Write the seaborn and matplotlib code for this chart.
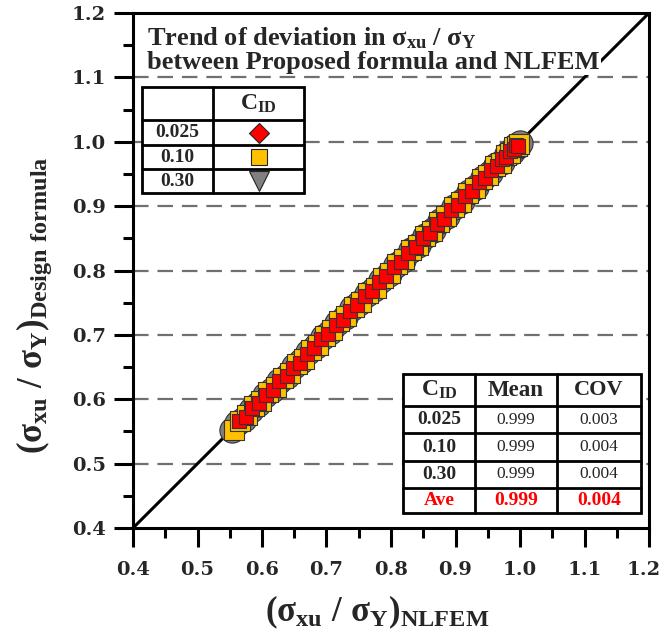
import numpy as np
import pandas as pd
import matplotlib
matplotlib.use("Agg")
import matplotlib.pyplot as plt
import matplotlib.transforms as mtransforms
import seaborn as sns
from matplotlib.patches import Rectangle
from matplotlib.lines import Line2D

# ---------------- data ----------------
red_x = [0.565, 0.575, 0.585, 0.596, 0.606, 0.617, 0.627, 0.638, 0.648, 0.659, 0.670, 0.681,
         0.692, 0.703, 0.714, 0.725, 0.736, 0.748, 0.759, 0.770, 0.781, 0.793, 0.804, 0.815,
         0.826, 0.838, 0.849, 0.860, 0.871, 0.882, 0.893, 0.904, 0.915, 0.926, 0.936, 0.946,
         0.955, 0.964, 0.972, 0.979, 0.985, 0.990, 0.994, 0.997]
red_y = [0.566, 0.573, 0.586, 0.594, 0.607, 0.615, 0.628, 0.636, 0.649, 0.657, 0.671, 0.679,
         0.693, 0.701, 0.715, 0.723, 0.737, 0.746, 0.760, 0.768, 0.782, 0.791, 0.805, 0.813,
         0.827, 0.836, 0.850, 0.858, 0.872, 0.880, 0.894, 0.902, 0.916, 0.924, 0.937, 0.944,
         0.956, 0.962, 0.973, 0.977, 0.986, 0.988, 0.995, 0.994]
yel_x = [0.556, 0.566, 0.577, 0.588, 0.599, 0.610, 0.621, 0.632, 0.643, 0.654, 0.665, 0.676,
         0.687, 0.698, 0.709, 0.720, 0.731, 0.742, 0.753, 0.764, 0.776, 0.787, 0.798, 0.809,
         0.820, 0.831, 0.842, 0.853, 0.864, 0.875, 0.886, 0.897, 0.908, 0.919, 0.930, 0.941,
         0.951, 0.961, 0.970, 0.978, 0.985, 0.991, 0.996, 0.999]
yel_y = [0.553, 0.566, 0.575, 0.589, 0.597, 0.611, 0.619, 0.633, 0.641, 0.655, 0.663, 0.677,
         0.685, 0.699, 0.707, 0.721, 0.729, 0.743, 0.751, 0.765, 0.773, 0.788, 0.796, 0.810,
         0.818, 0.832, 0.840, 0.854, 0.862, 0.876, 0.884, 0.898, 0.906, 0.920, 0.928, 0.942,
         0.949, 0.962, 0.967, 0.979, 0.983, 0.992, 0.993, 0.997]
gry_x = [0.553, 0.562, 0.572, 0.583, 0.594, 0.605, 0.616, 0.627, 0.638, 0.650, 0.661, 0.672,
         0.684, 0.695, 0.706, 0.717, 0.729, 0.740, 0.751, 0.763, 0.774, 0.785, 0.797, 0.808,
         0.819, 0.831, 0.842, 0.853, 0.865, 0.876, 0.887, 0.898, 0.910, 0.921, 0.932, 0.943,
         0.953, 0.963, 0.972, 0.980, 0.987, 0.993, 0.997, 1.000]
gry_y = [0.552, 0.563, 0.570, 0.584, 0.592, 0.606, 0.614, 0.628, 0.636, 0.651, 0.659, 0.673,
         0.682, 0.696, 0.704, 0.718, 0.727, 0.741, 0.749, 0.764, 0.772, 0.786, 0.795, 0.809,
         0.817, 0.832, 0.840, 0.854, 0.863, 0.877, 0.885, 0.899, 0.908, 0.922, 0.930, 0.944,
         0.951, 0.964, 0.969, 0.981, 0.984, 0.994, 0.994, 0.998]

cid_labels = ["0.025", "0.10", "0.30"]
mean_vals = ["0.999", "0.999", "0.999"]
cov_vals = ["0.003", "0.004", "0.004"]
ave_mean = "0.999"
ave_cov = "0.004"
x_ticks = [0.4, 0.5, 0.6, 0.7, 0.8, 0.9, 1.0, 1.1, 1.2]
y_ticks = [0.4, 0.5, 0.6, 0.7, 0.8, 0.9, 1.0, 1.1, 1.2]

# ---------------- style ----------------
sns.set_style("white")
plt.rcParams['font.family'] = ['Liberation Serif', 'DejaVu Serif']
plt.rcParams['mathtext.fontset'] = 'custom'
plt.rcParams['mathtext.rm'] = 'Liberation Serif:bold'
plt.rcParams['mathtext.it'] = 'Liberation Serif:bold'
plt.rcParams['mathtext.bf'] = 'Liberation Serif:bold'

W, H = 665, 634
fig = plt.figure(figsize=(W / 100, H / 100), dpi=100)
ax = fig.add_axes([133 / W, 1 - 528 / H, (649 - 133) / W, (528 - 13) / H])

df = pd.concat([
    pd.DataFrame({"x": gry_x, "y": gry_y, "C": "0.30"}),
    pd.DataFrame({"x": yel_x, "y": yel_y, "C": "0.10"}),
    pd.DataFrame({"x": red_x, "y": red_y, "C": "0.025"}),
])

# grid
for yv in [0.5, 0.6, 0.7, 0.8, 0.9, 1.0, 1.1]:
    ax.axhline(yv, color="#707070", lw=1.6, ls=(0, (7, 4)), zorder=0)

ax.plot([0.4, 1.2], [0.4, 1.2], color="black", lw=2.2, zorder=1)

specs = [("0.30", "o", "#808080", 330), ("0.10", "s", "#FFC000", 190), ("0.025", "s", "#FF0000", 95)]
for c, m, col, s in specs:
    sub = df[df["C"] == c]
    sns.scatterplot(data=sub, x="x", y="y", marker=m, color=col, s=s,
                    edgecolor="#333333", linewidth=0.8, ax=ax, zorder=3, legend=False)

ax.set_xlim(0.4, 1.2)
ax.set_ylim(0.4, 1.2)
ax.set_xticks(x_ticks)
ax.set_yticks(y_ticks)
ax.set_xticks(np.arange(0.45, 1.2, 0.1), minor=True)
ax.set_yticks(np.arange(0.45, 1.2, 0.1), minor=True)
tick_font = {'family': 'DejaVu Serif', 'weight': 'bold', 'size': 14}
ax.set_xticklabels([f"{v:.1f}" for v in x_ticks], fontdict=tick_font)
ax.set_yticklabels([f"{v:.1f}" for v in y_ticks], fontdict=tick_font)
ax.tick_params(which='both', bottom=True, left=True, top=False, right=False)
ax.tick_params(which='major', direction='out', length=13.5, width=2.2, color='black')
ax.tick_params(which='minor', direction='out', length=7, width=2.2, color='black')
ax.tick_params(axis='x', which='major', pad=10)
ax.tick_params(axis='y', which='major', pad=6)
last = ax.get_xticklabels()[-1]
last.set_transform(last.get_transform() + mtransforms.ScaledTranslation(-5 / 100, 0, fig.dpi_scale_trans))
for sp in ax.spines.values():
    sp.set_linewidth(2.2)
    sp.set_color('black')
    sp.set_visible(True)

ax.set_xlabel(r'$(\sigma_{xu}\ /\ \sigma_{Y})_{NLFEM}$', fontsize=25)
ax.xaxis.set_label_coords((377 - 133) / 516, -(612 - 528) / 515, transform=ax.transAxes)
ax.xaxis.label.set_va('center')
ax.set_ylabel(r'$(\sigma_{xu}\ /\ \sigma_{Y})_{Design\ formula}$', fontsize=25)
ax.yaxis.set_label_coords(-(133 - 34) / 516, (528 - 305) / 515, transform=ax.transAxes)
ax.yaxis.label.set_va('center')

# title box
ax.text(0.027, 0.975, r'Trend of deviation in $\sigma_{xu}$ / $\sigma_{Y}$' + '\nbetween Proposed formula and NLFEM',
        transform=ax.transAxes, ha='left', va='top', fontsize=19, fontweight='bold',
        linespacing=0.95, zorder=5,
        bbox=dict(facecolor='white', edgecolor='none', pad=1))

def fx(px):
    return px / W

def fy(py):
    return 1 - py / H

def draw_grid(xs, ys, lw=2.0):
    fig.add_artist(Rectangle((fx(xs[0]), fy(ys[-1])), fx(xs[-1]) - fx(xs[0]), fy(ys[0]) - fy(ys[-1]),
                             transform=fig.transFigure, facecolor='white', edgecolor='black',
                             lw=lw, zorder=10))
    for xv in xs[1:-1]:
        fig.add_artist(Line2D([fx(xv), fx(xv)], [fy(ys[0]), fy(ys[-1])], transform=fig.transFigure,
                              color='black', lw=lw, zorder=11))
    for yv in ys[1:-1]:
        fig.add_artist(Line2D([fx(xs[0]), fx(xs[-1])], [fy(yv), fy(yv)], transform=fig.transFigure,
                              color='black', lw=lw, zorder=11))

def cell_text(xs, ys, i, j, s, **kw):
    fig.text((fx(xs[j]) + fx(xs[j + 1])) / 2, (fy(ys[i]) + fy(ys[i + 1])) / 2, s,
             ha='center', va='center', zorder=12, **kw)

# legend table (top-left)
lx = [142, 213, 304]
ly = [87, 120, 145, 169, 193]
draw_grid(lx, ly)
cell_text(lx, ly, 0, 1, r'$\mathrm{C_{ID}}$', fontsize=17)
for i, lab in enumerate(cid_labels):
    cell_text(lx, ly, i + 1, 0, lab, fontsize=14, fontweight='bold')
leg_markers = [("D", "#FF0000", 10), ("s", "#FFC000", 12), ("v", "#808080", 14)]
for i, (m, col, ms) in enumerate(leg_markers):
    cxx = (fx(lx[1]) + fx(lx[2])) / 2
    cyy = (fy(ly[i + 1]) + fy(ly[i + 2])) / 2
    fig.add_artist(Line2D([cxx], [cyy], marker=m, color=col, markersize=ms, markeredgecolor='#222222',
                          markeredgewidth=0.8, linestyle='none', transform=fig.transFigure, zorder=12))

# stats table (bottom-right)
tx = [403, 475, 557, 641]
ty = [374, 406, 433, 461, 488, 513]
draw_grid(tx, ty)
cell_text(tx, ty, 0, 0, r'$\mathrm{C_{ID}}$', fontsize=17)
cell_text(tx, ty, 0, 1, 'Mean', fontsize=16.5, fontweight='bold')
cell_text(tx, ty, 0, 2, 'COV', fontsize=16, fontweight='bold')
for i in range(3):
    cell_text(tx, ty, i + 1, 0, cid_labels[i], fontsize=14, fontweight='bold')
    cell_text(tx, ty, i + 1, 1, mean_vals[i], fontsize=12.5)
    cell_text(tx, ty, i + 1, 2, cov_vals[i], fontsize=12.5)
cell_text(tx, ty, 4, 0, 'Ave', fontsize=14, fontweight='bold', color='#FF0000')
cell_text(tx, ty, 4, 1, ave_mean, fontsize=14, fontweight='bold', color='#FF0000')
cell_text(tx, ty, 4, 2, ave_cov, fontsize=14, fontweight='bold', color='#FF0000')

fig.savefig("out.png", dpi=100)
